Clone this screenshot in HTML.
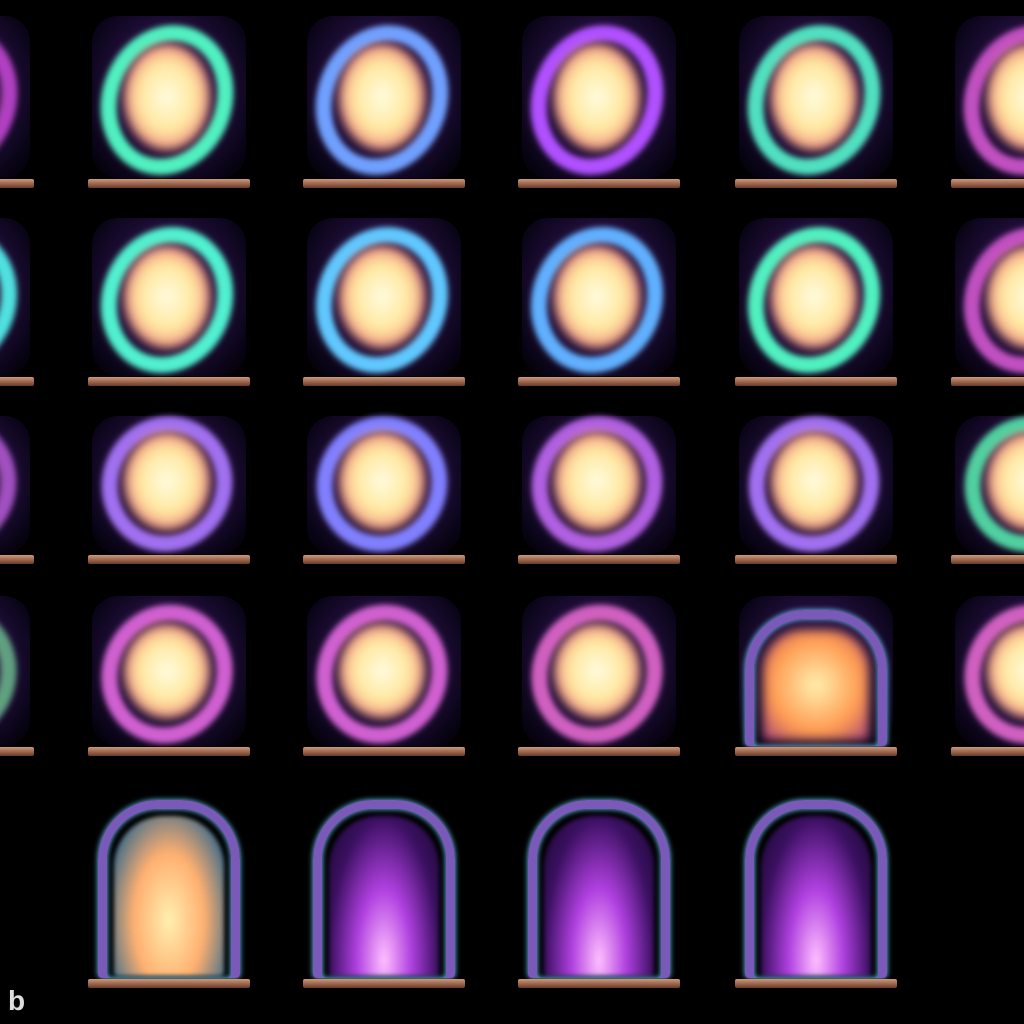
<!DOCTYPE html>
<html><head><meta charset="utf-8"><style>
html,body{margin:0;padding:0;background:#000;width:1024px;height:1024px;overflow:hidden;position:relative;font-family:"Liberation Sans",sans-serif}
.s{position:absolute;width:162px}
.bg{position:absolute;left:4px;right:4px;top:6px;bottom:14px;border-radius:26px;background:radial-gradient(ellipse at 50% 45%,#3a1858 0%,#1c0c34 55%,#070312 85%,#000 100%)}
.ring{position:absolute;border-radius:50%;border-style:solid;filter:blur(3px);transform:rotate(20deg)}
.core{position:absolute;border-radius:50%;filter:blur(5px)}
.base{position:absolute;left:0;right:0;bottom:4px;height:9px;background:linear-gradient(#d09878,#6a3a28);border-radius:2px}
.frame{position:absolute;left:10px;right:10px;top:20px;bottom:14px;border:9px solid #7a5ab8;border-bottom:none;border-radius:60px 60px 4px 4px;box-shadow:0 0 6px #6ad0ff inset,0 0 6px #6ad0ff}
.logo{position:absolute;left:8px;top:985px;color:#ddd;font-size:28px;font-weight:bold}
</style></head><body>
<div class="logo">b</div>
<script>
const cols=[-128,88,303,518,735,951];
const rows=[{t:10,h:182},{t:212,h:178},{t:410,h:158},{t:590,h:170}];
const ringColors=[['#b040c0','#50f0c0','#70a0ff','#b050ff','#50e0c0','#c050c0'],['#50e0e0','#50f0d0','#60c8ff','#60b0ff','#50f0c0','#c050c0'],['#a050c0','#a070f0','#8080ff','#b060e0','#a070f0','#50d0a0'],['#60a080','#d060d0','#d060d0','#d060c0','#d060c0','#d060c0']];
rows.forEach((r,ri)=>{cols.forEach((x,ci)=>{
 const s=document.createElement('div');s.className='s';
 
 
 s.style.left=x+'px';s.style.top=r.t+'px';s.style.height=r.h+'px';
 const bg=document.createElement('div');bg.className='bg';s.appendChild(bg);
 if(ri==3&&ci==4){
  const f=document.createElement('div');f.className='frame';s.appendChild(f);
  const c=document.createElement('div');c.className='core';c.style.cssText='left:28px;right:28px;top:40px;bottom:20px;border-radius:40px 40px 4px 4px;background:radial-gradient(#fff0b0,#ff9a50 60%,#a04080)';s.appendChild(c);
 } else {
  const g=document.createElement('div');g.className='ring';
  g.style.cssText='left:14px;right:18px;top:'+(ri==2?6:14)+'px;bottom:16px;border-width:16px;border-color:'+ringColors[ri][ci];
  s.appendChild(g);
  const c=document.createElement('div');c.className='core';
  c.style.cssText='left:36px;right:40px;top:'+(ri==2?22:34)+'px;bottom:'+(ri==2?38:42)+'px;background:radial-gradient(#fffce0 0%,#ffe8a0 45%,#f09080 72%,#6a2a80 100%)';
  s.appendChild(c);
 }
 const b=document.createElement('div');b.className='base';s.appendChild(b);
 document.body.appendChild(s);
});});
[88,303,518,735].forEach((x,ci)=>{
 const s=document.createElement('div');s.className='s';
 
 
 s.style.left=x+'px';s.style.top='780px';s.style.height='212px';
 const bg=document.createElement('div');bg.className='bg';bg.style.background='#000';s.appendChild(bg);
 const c=document.createElement('div');c.className='core';
 c.style.cssText='left:26px;right:26px;top:36px;bottom:16px;border-radius:50px 50px 4px 4px;filter:blur(2px);background:'+(ci==0?'radial-gradient(ellipse at 50% 65%,#fff0b0,#ffb070 45%,#3a6a8a 85%)':'radial-gradient(ellipse at 50% 90%,#ffc0ff,#b040e0 35%,#3a1060 70%,#1a0830)');
 s.appendChild(c);
 const f=document.createElement('div');f.className='frame';s.appendChild(f);
 const b=document.createElement('div');b.className='base';s.appendChild(b);
 document.body.appendChild(s);
});
</script>
</body></html>
